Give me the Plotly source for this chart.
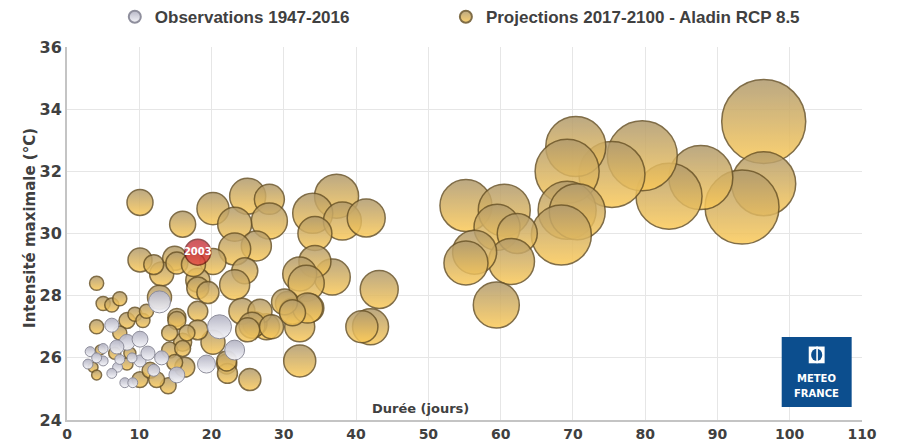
import plotly.graph_objects as go

# ---------------- Data ----------------
# Observations 1947-2016 : durée (jours), intensité maximale (°C), sévérité (taille)
obs_duree = [21.1, 23.2, 19.3, 15.2, 12.8, 6.2, 8.3, 10.1, 6.9, 3.2, 2.9, 5.0, 5.0, 7.0,
             6.2, 10.1, 11.2, 13.1, 8.0, 9.1, 4.1, 12.0, 9.0, 7.3]
obs_intens = [27.0, 26.25, 25.8, 25.45, 27.8, 27.05, 26.5, 26.6, 26.35, 26.2, 25.8, 25.9, 26.3, 25.7,
              25.5, 25.9, 26.15, 26.0, 25.2, 25.2, 26.0, 25.6, 26.0, 25.95]
obs_sev = [64, 44, 36, 28, 54, 22, 28, 28, 22, 11, 11, 11, 11, 11,
           11, 16, 22, 22, 11, 11, 11, 16, 11, 11]

# Projections 2017-2100 - Aladin RCP 8.5
proj_duree = [96.4, 96.4, 93.4, 87.7, 83.3, 79.6, 75.4, 70.4, 69.2, 69.2, 70.6, 68.4,
              55.2, 60.5, 59.5, 62.3, 61.5, 56.4, 55.2, 59.4,
              37.3, 34.0, 38.1, 41.4, 34.3, 36.7, 34.3, 32.2, 33.1, 43.2, 42.0, 40.8,
              33.6, 32.2, 30.5, 31.2, 32.2, 33.3, 27.6, 26.0,
              25.0, 28.0, 28.0, 20.2, 16.0, 23.2, 26.2, 23.2, 14.9, 20.2, 24.6, 23.2,
              18.1, 18.1, 19.5, 18.1, 24.2, 26.7, 25.6, 25.0, 30.1, 31.2, 28.3, 20.2,
              22.1, 22.2, 25.3, 18.1, 16.0, 16.3, 15.2, 22.1,
              10.1, 4.1, 10.1, 13.1, 15.2, 5.0, 6.2, 7.3, 12.8, 4.1, 8.3, 9.4, 10.5,
              11.0, 15.2, 14.0, 3.6, 10.1, 11.5, 12.4, 14.2, 16.6, 7.3, 4.6, 6.6, 8.7,
              8.3, 4.1, 14.2, 16.0, 14.9, 17.5, 12.0]
proj_intens = [33.6, 31.6, 30.85, 31.8, 31.2, 32.5, 31.9, 32.8, 32.0, 30.75, 30.7, 29.95,
               30.9, 30.75, 30.2, 30.0, 29.1, 29.4, 29.05, 27.7,
               31.2, 30.65, 30.4, 30.5, 30.0, 28.6, 29.1, 28.7, 28.4, 28.2, 27.0, 27.0,
               27.6, 27.0, 27.75, 27.5, 25.9, 27.6, 27.0, 27.1,
               31.2, 31.1, 30.4, 30.8, 30.3, 30.3, 29.6, 29.5, 29.2, 29.1, 28.8, 28.35,
               28.5, 28.25, 28.1, 27.5, 27.5, 27.5, 27.05, 26.9, 27.8, 27.45, 27.0, 26.5,
               25.8, 25.5, 25.3, 26.9, 26.5, 25.7, 27.3, 25.9,
               31.0, 28.4, 29.15, 28.7, 29.05, 27.75, 27.7, 27.9, 27.95, 27.0, 27.2, 27.4, 27.2,
               27.5, 27.2, 25.1, 25.7, 25.3, 25.6, 25.3, 26.8, 26.8, 26.8, 26.25, 26.15, 26.15,
               25.8, 25.45, 26.25, 26.3, 25.85, 29.0, 29.0]
proj_sev = [784, 455, 608, 455, 484, 544, 484, 400, 455, 374, 348, 400,
            300, 300, 235, 178, 235, 215, 215, 235,
            215, 178, 160, 160, 128, 144, 114, 128, 144, 160, 144, 114,
            87, 100, 64, 75, 114, 100, 75, 64,
            144, 100, 144, 114, 75, 128, 100, 114, 64, 75, 75, 100,
            64, 54, 54, 44, 75, 64, 75, 64, 75, 75, 64, 64,
            44, 44, 54, 44, 36, 44, 36, 44,
            75, 22, 64, 64, 54, 22, 22, 22, 64, 22, 28, 22, 22,
            22, 36, 28, 11, 28, 28, 28, 28, 28, 22, 11, 16, 16,
            16, 11, 28, 28, 28, 64, 44]

# Canicule 2003
y2003_duree = [18.1]
y2003_intens = [29.4]
y2003_sev = [75]
y2003_label = ["<b>2003</b>"]

x_ticks = [0, 10, 20, 30, 40, 50, 60, 70, 80, 90, 100, 110]
y_ticks = [24, 26, 28, 30, 32, 34, 36]

SIZEREF = 2 / 9

fig = go.Figure()

fig.add_trace(go.Scatter(
    x=proj_duree, y=proj_intens, mode="markers",
    name="<b>Projections 2017-2100 - Aladin RCP 8.5</b>",
    legend="legend2",
    marker=dict(size=proj_sev, sizemode="area", sizeref=SIZEREF,
                color="#b09a6e", opacity=0.85,
                gradient=dict(type="vertical", color="#fcca58"),
                line=dict(color="#6a5428", width=1.5)),
))

fig.add_trace(go.Scatter(
    x=obs_duree, y=obs_intens, mode="markers",
    name="<b>Observations 1947-2016</b>",
    legend="legend",
    marker=dict(size=obs_sev, sizemode="area", sizeref=SIZEREF,
                color="#b4b4c4", opacity=0.95,
                gradient=dict(type="vertical", color="#f6f6fa"),
                line=dict(color="#8a8a98", width=1)),
))

fig.add_trace(go.Scatter(
    x=y2003_duree, y=y2003_intens, mode="markers+text",
    text=y2003_label, textposition="middle center",
    textfont=dict(family="DejaVu Sans", size=10, color="white"),
    showlegend=False,
    marker=dict(size=y2003_sev, sizemode="area", sizeref=SIZEREF,
                color="#b8121a",
                gradient=dict(type="vertical", color="#e8363c"),
                line=dict(color="#6a0a0a", width=1.5)),
))

axis_font = dict(family="DejaVu Sans", size=16, color="#404040")
xaxis_font = dict(family="DejaVu Sans", size=14, color="#404040")
legend_font = dict(family="Liberation Sans, Arial, sans-serif", size=17, color="#404040")

# page body has an 8 px default margin: figure is sized so the plot lands where the reference has it
fig.update_layout(
    width=890, height=434,
    margin=dict(l=59, r=36, t=39, b=22, autoexpand=False),
    paper_bgcolor="white", plot_bgcolor="white",
    showlegend=True,
    legend=dict(orientation="h", x=0.12, xanchor="left", xref="container",
                y=1.08, yanchor="middle", yref="paper",
                font=legend_font, itemsizing="constant", bgcolor="rgba(0,0,0,0)"),
    legend2=dict(orientation="h", x=0.492, xanchor="left", xref="container",
                 y=1.08, yanchor="middle", yref="paper",
                 font=legend_font, itemsizing="constant", bgcolor="rgba(0,0,0,0)"),
    xaxis=dict(range=[0, 110], tickvals=x_ticks, ticktext=[f"<b>{v}</b>" for v in x_ticks],
               showgrid=True, gridcolor="#e6e6e6", gridwidth=1,
               showline=True, linecolor="#c4c4c4", linewidth=2, automargin=False,
               zeroline=False, ticks="", tickfont=xaxis_font),
    yaxis=dict(range=[24, 36], tickvals=y_ticks, ticktext=[f"<b>{v}</b>" for v in y_ticks],
               showgrid=True, gridcolor="#e6e6e6", gridwidth=1,
               showline=True, linecolor="#c4c4c4", linewidth=2, automargin=False,
               zeroline=False, ticks="", tickfont=axis_font),
)

fig.add_annotation(x=-0.0465, y=0.515, xref="paper", yref="paper", xanchor="center",
                   yanchor="middle", showarrow=False, textangle=-90,
                   text="<b>Intensité maximale (°C)</b>",
                   font=dict(family="DejaVu Sans", size=15, color="#404040"))

fig.add_annotation(x=0.445, y=0.005, xref="paper", yref="paper", xanchor="center",
                   yanchor="bottom", showarrow=False,
                   text="<b>Durée (jours)</b>",
                   font=dict(family="DejaVu Sans", size=13, color="#404040"))

# Logo Météo-France
fig.add_shape(type="rect", xref="paper", yref="paper", x0=0.899, x1=0.987, y0=0.035, y1=0.2225,
              fillcolor="#0c4e8e", line=dict(width=0), layer="above")
fig.add_shape(type="rect", xref="paper", yref="paper", x0=0.933, x1=0.953, y0=0.152, y1=0.197,
              fillcolor="white", line=dict(width=0), layer="above")
fig.add_shape(type="circle", xref="paper", yref="paper", x0=0.936, x1=0.950, y0=0.158, y1=0.191,
              fillcolor="#0c4e8e", line=dict(width=0), layer="above")
fig.add_shape(type="rect", xref="paper", yref="paper", x0=0.9425, x1=0.9445, y0=0.152, y1=0.197,
              fillcolor="white", line=dict(width=0), layer="above")
fig.add_annotation(x=0.943, y=0.112, xref="paper", yref="paper", showarrow=False,
                   xanchor="center", yanchor="middle", text="<b>METEO</b>",
                   font=dict(family="DejaVu Sans", size=10, color="white"))
fig.add_annotation(x=0.943, y=0.072, xref="paper", yref="paper", showarrow=False,
                   xanchor="center", yanchor="middle", text="<b>FRANCE</b>",
                   font=dict(family="DejaVu Sans", size=10, color="white"))

fig.write_html("out.html")
